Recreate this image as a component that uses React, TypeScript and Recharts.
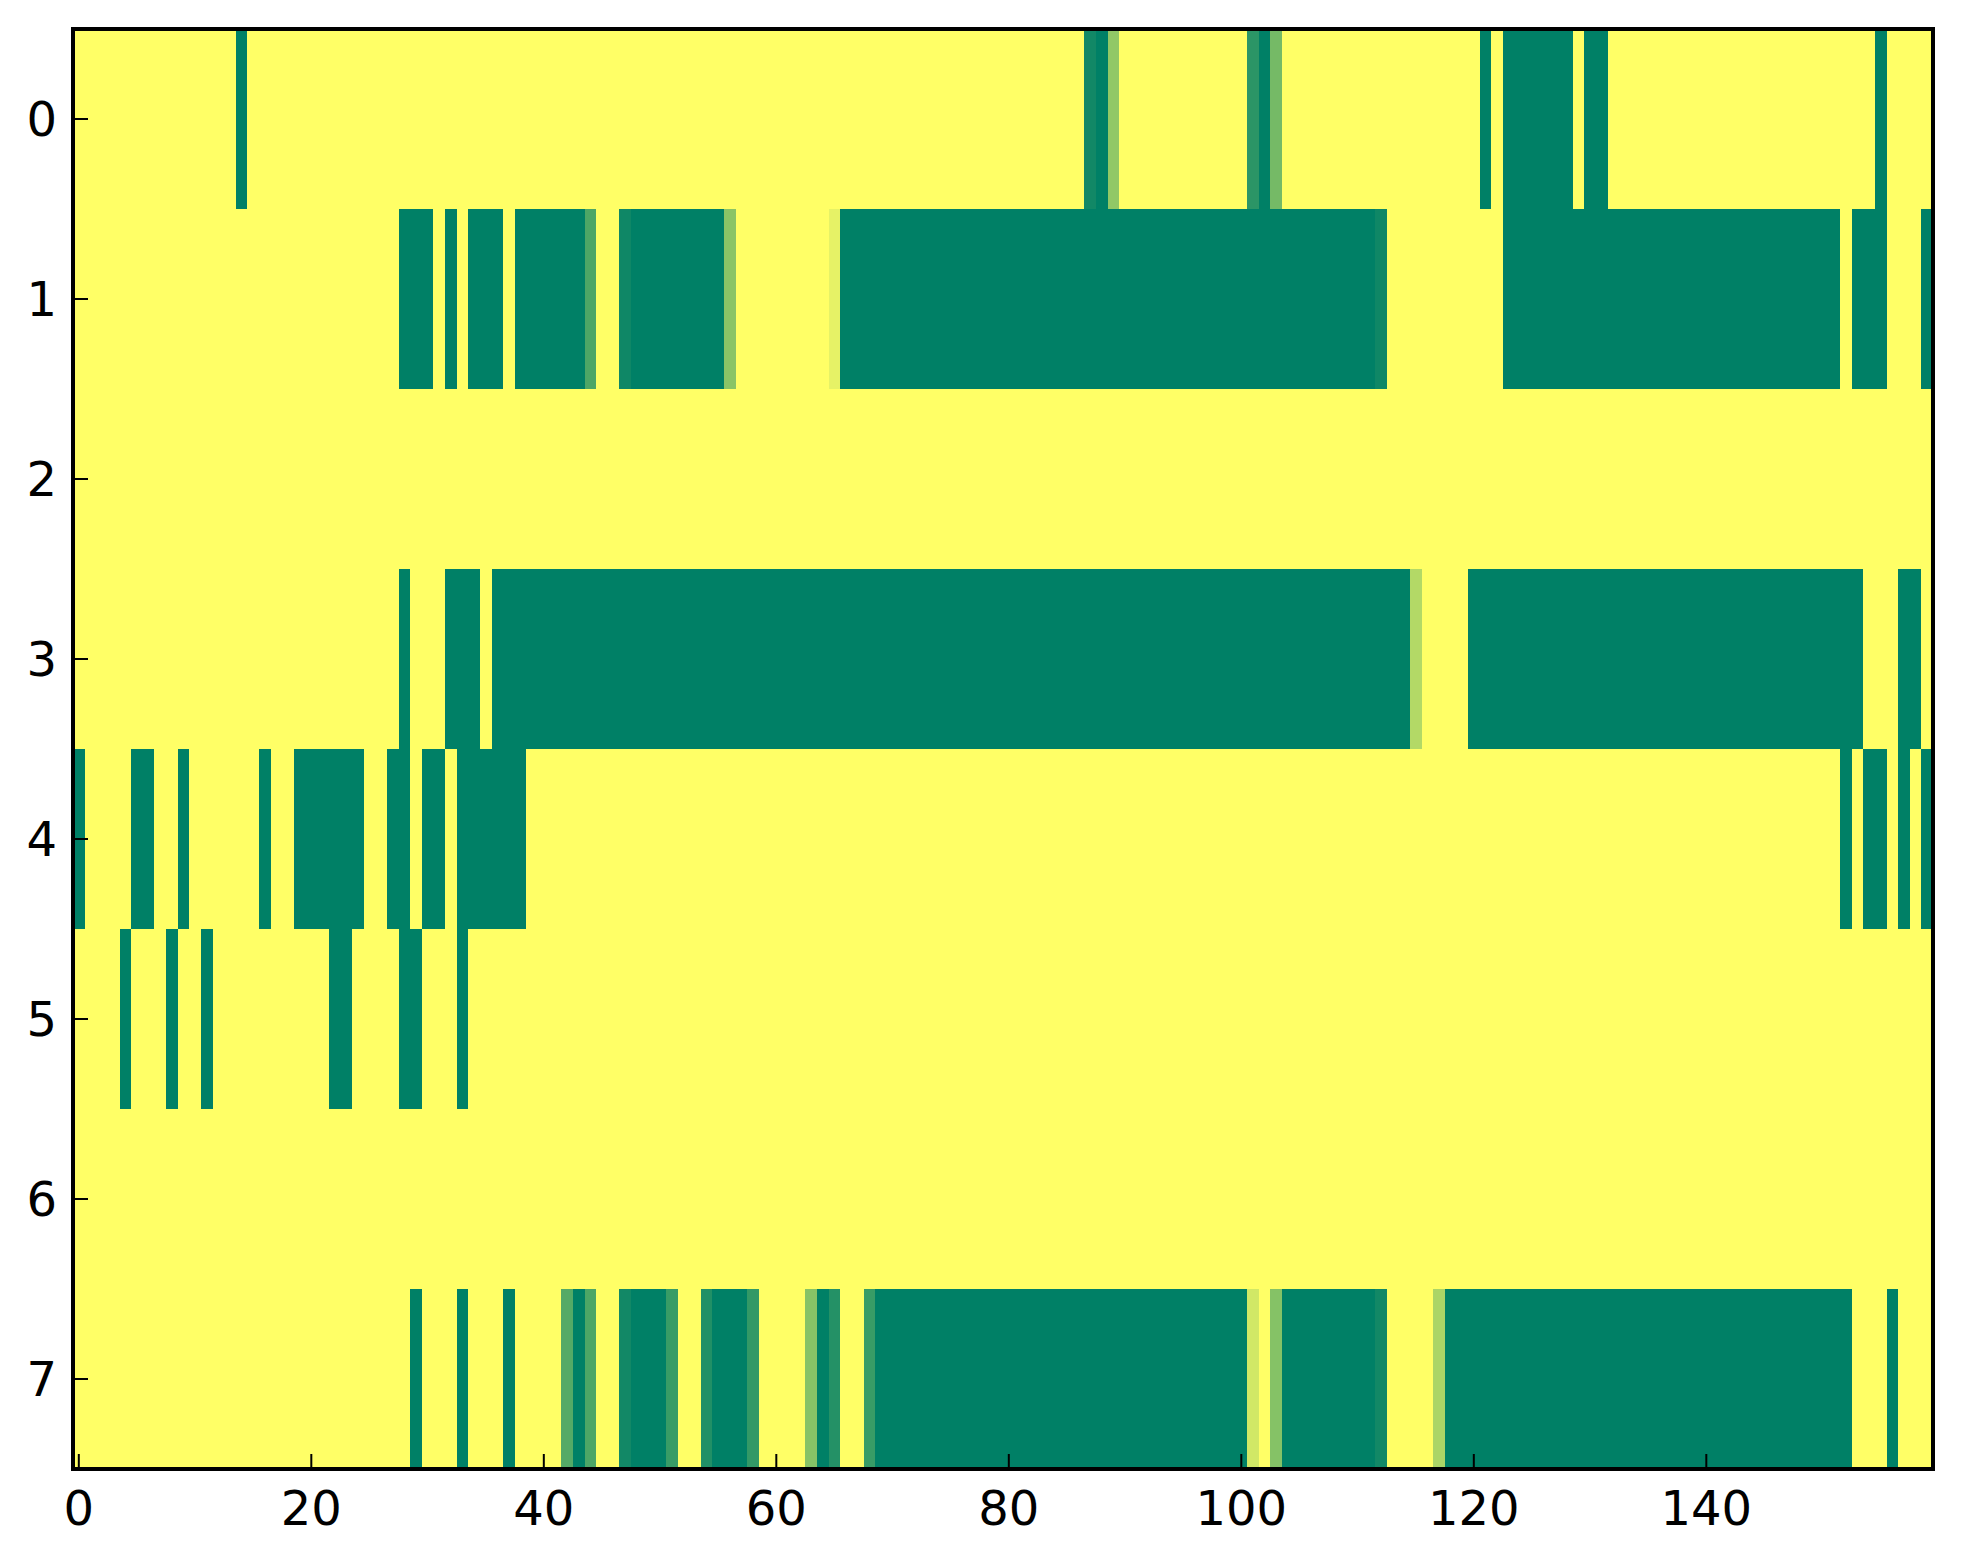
import { ScatterChart, Scatter, XAxis, YAxis } from "recharts";

// tick labels
const xTicks = [0, 20, 40, 60, 80, 100, 120, 140];
const yTicks = [0, 1, 2, 3, 4, 5, 6, 7];

// one array per image row, one value per column (0 = green, 1 = yellow)
const row0 = [
    1, 1, 1, 1, 1, 1, 1, 1, 1, 1, 1, 1, 1, 1, 0, 1, 1, 1, 1, 1,
    1, 1, 1, 1, 1, 1, 1, 1, 1, 1, 1, 1, 1, 1, 1, 1, 1, 1, 1, 1,
    1, 1, 1, 1, 1, 1, 1, 1, 1, 1, 1, 1, 1, 1, 1, 1, 1, 1, 1, 1,
    1, 1, 1, 1, 1, 1, 1, 1, 1, 1, 1, 1, 1, 1, 1, 1, 1, 1, 1, 1,
    1, 1, 1, 1, 1, 1, 1, 0.07, 0, 0.57, 1, 1, 1, 1, 1, 1, 1, 1, 1, 1,
    1, 0.17, 0, 0.46, 1, 1, 1, 1, 1, 1, 1, 1, 1, 1, 1, 1, 1, 1, 1, 1,
    1, 0, 1, 0, 0, 0, 0, 0, 0, 1, 0, 0, 1, 1, 1, 1, 1, 1, 1, 1,
    1, 1, 1, 1, 1, 1, 1, 1, 1, 1, 1, 1, 1, 1, 1, 0, 1, 1, 1, 1
];

const row1 = [
    1, 1, 1, 1, 1, 1, 1, 1, 1, 1, 1, 1, 1, 1, 1, 1, 1, 1, 1, 1,
    1, 1, 1, 1, 1, 1, 1, 1, 0, 0, 0, 1, 0, 1, 0, 0, 0, 1, 0, 0,
    0, 0, 0, 0, 0.3, 1, 1, 0.06, 0, 0, 0, 0, 0, 0, 0, 0, 0.54, 1, 1, 1,
    1, 1, 1, 1, 1, 0.9, 0, 0, 0, 0, 0, 0, 0, 0, 0, 0, 0, 0, 0, 0,
    0, 0, 0, 0, 0, 0, 0, 0, 0, 0, 0, 0, 0, 0, 0, 0, 0, 0, 0, 0,
    0, 0, 0, 0, 0, 0, 0, 0, 0, 0, 0, 0, 0.06, 1, 1, 1, 1, 1, 1, 1,
    1, 1, 1, 0, 0, 0, 0, 0, 0, 0, 0, 0, 0, 0, 0, 0, 0, 0, 0, 0,
    0, 0, 0, 0, 0, 0, 0, 0, 0, 0, 0, 0, 1, 0, 0, 0, 1, 1, 1, 0
];

const row2 = [
    1, 1, 1, 1, 1, 1, 1, 1, 1, 1, 1, 1, 1, 1, 1, 1, 1, 1, 1, 1,
    1, 1, 1, 1, 1, 1, 1, 1, 1, 1, 1, 1, 1, 1, 1, 1, 1, 1, 1, 1,
    1, 1, 1, 1, 1, 1, 1, 1, 1, 1, 1, 1, 1, 1, 1, 1, 1, 1, 1, 1,
    1, 1, 1, 1, 1, 1, 1, 1, 1, 1, 1, 1, 1, 1, 1, 1, 1, 1, 1, 1,
    1, 1, 1, 1, 1, 1, 1, 1, 1, 1, 1, 1, 1, 1, 1, 1, 1, 1, 1, 1,
    1, 1, 1, 1, 1, 1, 1, 1, 1, 1, 1, 1, 1, 1, 1, 1, 1, 1, 1, 1,
    1, 1, 1, 1, 1, 1, 1, 1, 1, 1, 1, 1, 1, 1, 1, 1, 1, 1, 1, 1,
    1, 1, 1, 1, 1, 1, 1, 1, 1, 1, 1, 1, 1, 1, 1, 1, 1, 1, 1, 1
];

const row3 = [
    1, 1, 1, 1, 1, 1, 1, 1, 1, 1, 1, 1, 1, 1, 1, 1, 1, 1, 1, 1,
    1, 1, 1, 1, 1, 1, 1, 1, 0, 1, 1, 1, 0, 0, 0, 1, 0, 0, 0, 0,
    0, 0, 0, 0, 0, 0, 0, 0, 0, 0, 0, 0, 0, 0, 0, 0, 0, 0, 0, 0,
    0, 0, 0, 0, 0, 0, 0, 0, 0, 0, 0, 0, 0, 0, 0, 0, 0, 0, 0, 0,
    0, 0, 0, 0, 0, 0, 0, 0, 0, 0, 0, 0, 0, 0, 0, 0, 0, 0, 0, 0,
    0, 0, 0, 0, 0, 0, 0, 0, 0, 0, 0, 0, 0, 0, 0, 0.7, 1, 1, 1, 1,
    0, 0, 0, 0, 0, 0, 0, 0, 0, 0, 0, 0, 0, 0, 0, 0, 0, 0, 0, 0,
    0, 0, 0, 0, 0, 0, 0, 0, 0, 0, 0, 0, 0, 0, 1, 1, 1, 0, 0, 1
];

const row4 = [
    0, 1, 1, 1, 1, 0, 0, 1, 1, 0, 1, 1, 1, 1, 1, 1, 0, 1, 1, 0,
    0, 0, 0, 0, 0, 1, 1, 0, 0, 1, 0, 0, 1, 0, 0, 0, 0, 0, 0, 1,
    1, 1, 1, 1, 1, 1, 1, 1, 1, 1, 1, 1, 1, 1, 1, 1, 1, 1, 1, 1,
    1, 1, 1, 1, 1, 1, 1, 1, 1, 1, 1, 1, 1, 1, 1, 1, 1, 1, 1, 1,
    1, 1, 1, 1, 1, 1, 1, 1, 1, 1, 1, 1, 1, 1, 1, 1, 1, 1, 1, 1,
    1, 1, 1, 1, 1, 1, 1, 1, 1, 1, 1, 1, 1, 1, 1, 1, 1, 1, 1, 1,
    1, 1, 1, 1, 1, 1, 1, 1, 1, 1, 1, 1, 1, 1, 1, 1, 1, 1, 1, 1,
    1, 1, 1, 1, 1, 1, 1, 1, 1, 1, 1, 1, 0, 1, 0, 0, 1, 0, 1, 0
];

const row5 = [
    1, 1, 1, 1, 0, 1, 1, 1, 0, 1, 1, 0, 1, 1, 1, 1, 1, 1, 1, 1,
    1, 1, 0, 0, 1, 1, 1, 1, 0, 0, 1, 1, 1, 0, 1, 1, 1, 1, 1, 1,
    1, 1, 1, 1, 1, 1, 1, 1, 1, 1, 1, 1, 1, 1, 1, 1, 1, 1, 1, 1,
    1, 1, 1, 1, 1, 1, 1, 1, 1, 1, 1, 1, 1, 1, 1, 1, 1, 1, 1, 1,
    1, 1, 1, 1, 1, 1, 1, 1, 1, 1, 1, 1, 1, 1, 1, 1, 1, 1, 1, 1,
    1, 1, 1, 1, 1, 1, 1, 1, 1, 1, 1, 1, 1, 1, 1, 1, 1, 1, 1, 1,
    1, 1, 1, 1, 1, 1, 1, 1, 1, 1, 1, 1, 1, 1, 1, 1, 1, 1, 1, 1,
    1, 1, 1, 1, 1, 1, 1, 1, 1, 1, 1, 1, 1, 1, 1, 1, 1, 1, 1, 1
];

const row6 = [
    1, 1, 1, 1, 1, 1, 1, 1, 1, 1, 1, 1, 1, 1, 1, 1, 1, 1, 1, 1,
    1, 1, 1, 1, 1, 1, 1, 1, 1, 1, 1, 1, 1, 1, 1, 1, 1, 1, 1, 1,
    1, 1, 1, 1, 1, 1, 1, 1, 1, 1, 1, 1, 1, 1, 1, 1, 1, 1, 1, 1,
    1, 1, 1, 1, 1, 1, 1, 1, 1, 1, 1, 1, 1, 1, 1, 1, 1, 1, 1, 1,
    1, 1, 1, 1, 1, 1, 1, 1, 1, 1, 1, 1, 1, 1, 1, 1, 1, 1, 1, 1,
    1, 1, 1, 1, 1, 1, 1, 1, 1, 1, 1, 1, 1, 1, 1, 1, 1, 1, 1, 1,
    1, 1, 1, 1, 1, 1, 1, 1, 1, 1, 1, 1, 1, 1, 1, 1, 1, 1, 1, 1,
    1, 1, 1, 1, 1, 1, 1, 1, 1, 1, 1, 1, 1, 1, 1, 1, 1, 1, 1, 1
];

const row7 = [
    1, 1, 1, 1, 1, 1, 1, 1, 1, 1, 1, 1, 1, 1, 1, 1, 1, 1, 1, 1,
    1, 1, 1, 1, 1, 1, 1, 1, 1, 0, 1, 1, 1, 0, 1, 1, 1, 0, 1, 1,
    1, 1, 0.33, 0, 0.3, 1, 1, 0.07, 0, 0, 0, 0.22, 1, 1, 0.13, 0, 0, 0, 0.2, 1,
    1, 1, 1, 0.53, 0, 0.14, 1, 1, 0.22, 0, 0, 0, 0, 0, 0, 0, 0, 0, 0, 0,
    0, 0, 0, 0, 0, 0, 0, 0, 0, 0, 0, 0, 0, 0, 0, 0, 0, 0, 0, 0,
    0, 0.82, 1, 0.52, 0, 0, 0, 0, 0, 0, 0, 0, 0.07, 1, 1, 1, 1, 0.67, 0, 0,
    0, 0, 0, 0, 0, 0, 0, 0, 0, 0, 0, 0, 0, 0, 0, 0, 0, 0, 0, 0,
    0, 0, 0, 0, 0, 0, 0, 0, 0, 0, 0, 0, 0, 1, 1, 1, 0, 1, 1, 1
];

const rows = [row0, row1, row2, row3, row4, row5, row6, row7];

const CHART_W = 1955;
const CHART_H = 1540;
const MARGIN = { top: 20, right: 29, bottom: 9, left: 5 };
const Y_AXIS_W = 60;
const X_AXIS_H = 70;
const PLOT_W = CHART_W - MARGIN.left - MARGIN.right - Y_AXIS_W - 1;
const PLOT_H = CHART_H - MARGIN.top - MARGIN.bottom - X_AXIS_H - 1;
const CELL_W = PLOT_W / row0.length;
const CELL_H = PLOT_H / rows.length;

// matplotlib "summer" colormap
const summer = (v: number) =>
    `rgb(${Math.round(255 * v)}, ${Math.round(127.5 + 127.5 * v)}, 102)`;

// merge equal neighbouring cells of a row into one rectangle
const runs: any[] = [];
rows.forEach((vals, r) => {
    let start = 0;
    for (let c = 1; c <= vals.length; c++) {
        if (c === vals.length || vals[c] !== vals[start]) {
            runs.push({ x: (start + c - 1) / 2, y: r, v: vals[start], span: c - start });
            start = c;
        }
    }
});

const HeatCell = (props: any) => {
    const { cx, cy, payload } = props;
    const w = payload.span * CELL_W;
    return (
        <rect
            x={cx - w / 2}
            y={cy - CELL_H / 2}
            width={w}
            height={CELL_H}
            fill={summer(payload.v)}
            shapeRendering="crispEdges"
        />
    );
};

const axisStyle = { stroke: "#000", strokeWidth: 4, strokeLinecap: "square" };
const tickStyle = { stroke: "#000", strokeWidth: 2 };
const labelStyle = { fill: "#000", fontSize: 48, fontFamily: "DejaVu Sans" };

// the same four axes in both layers; `show` turns lines and labels on
const axes = (show: boolean) => [
    <XAxis
        key="bottom"
        xAxisId="bottom"
        dataKey="x"
        type="number"
        domain={[-0.5, 159.5]}
        allowDataOverflow
        ticks={xTicks}
        interval={0}
        height={X_AXIS_H}
        tickSize={-15}
        tickMargin={37}
        axisLine={show ? axisStyle : false}
        tickLine={show ? tickStyle : false}
        tick={show ? labelStyle : false}
    />,
    <XAxis
        key="top"
        xAxisId="top"
        orientation="top"
        type="number"
        domain={[-0.5, 159.5]}
        allowDataOverflow
        ticks={xTicks}
        interval={0}
        height={1}
        tickSize={-15}
        axisLine={show ? axisStyle : false}
        tickLine={show ? tickStyle : false}
        tick={false}
    />,
    <YAxis
        key="left"
        yAxisId="left"
        dataKey="y"
        type="number"
        domain={[-0.5, 7.5]}
        reversed
        allowDataOverflow
        ticks={yTicks}
        interval={0}
        width={Y_AXIS_W}
        tickSize={-15}
        tickMargin={31}
        axisLine={show ? axisStyle : false}
        tickLine={show ? tickStyle : false}
        tick={show ? labelStyle : false}
    />,
    <YAxis
        key="right"
        yAxisId="right"
        orientation="right"
        type="number"
        domain={[-0.5, 7.5]}
        reversed
        allowDataOverflow
        ticks={yTicks}
        interval={0}
        width={1}
        tickSize={-15}
        axisLine={show ? axisStyle : false}
        tickLine={show ? tickStyle : false}
        tick={false}
    />
];

const App = () => {
    return (<div style={{ position: "relative", width: CHART_W, height: CHART_H }}>

        {/* heatmap cells */}
        <ScatterChart width={CHART_W} height={CHART_H} margin={MARGIN}>
            <Scatter
                data={runs}
                dataKey="y"
                xAxisId="bottom"
                yAxisId="left"
                shape={HeatCell}
                isAnimationActive={false}
            />
            {axes(false)}
        </ScatterChart>

        {/* frame, inward ticks and labels drawn above the cells */}
        <div style={{ position: "absolute", left: 0, top: 0 }}>
            <ScatterChart width={CHART_W} height={CHART_H} margin={MARGIN}>
                <Scatter
                    data={[]}
                    dataKey="y"
                    xAxisId="bottom"
                    yAxisId="left"
                    isAnimationActive={false}
                />
                {axes(true)}
            </ScatterChart>
        </div>

    </div>
    );
};

export default App;
